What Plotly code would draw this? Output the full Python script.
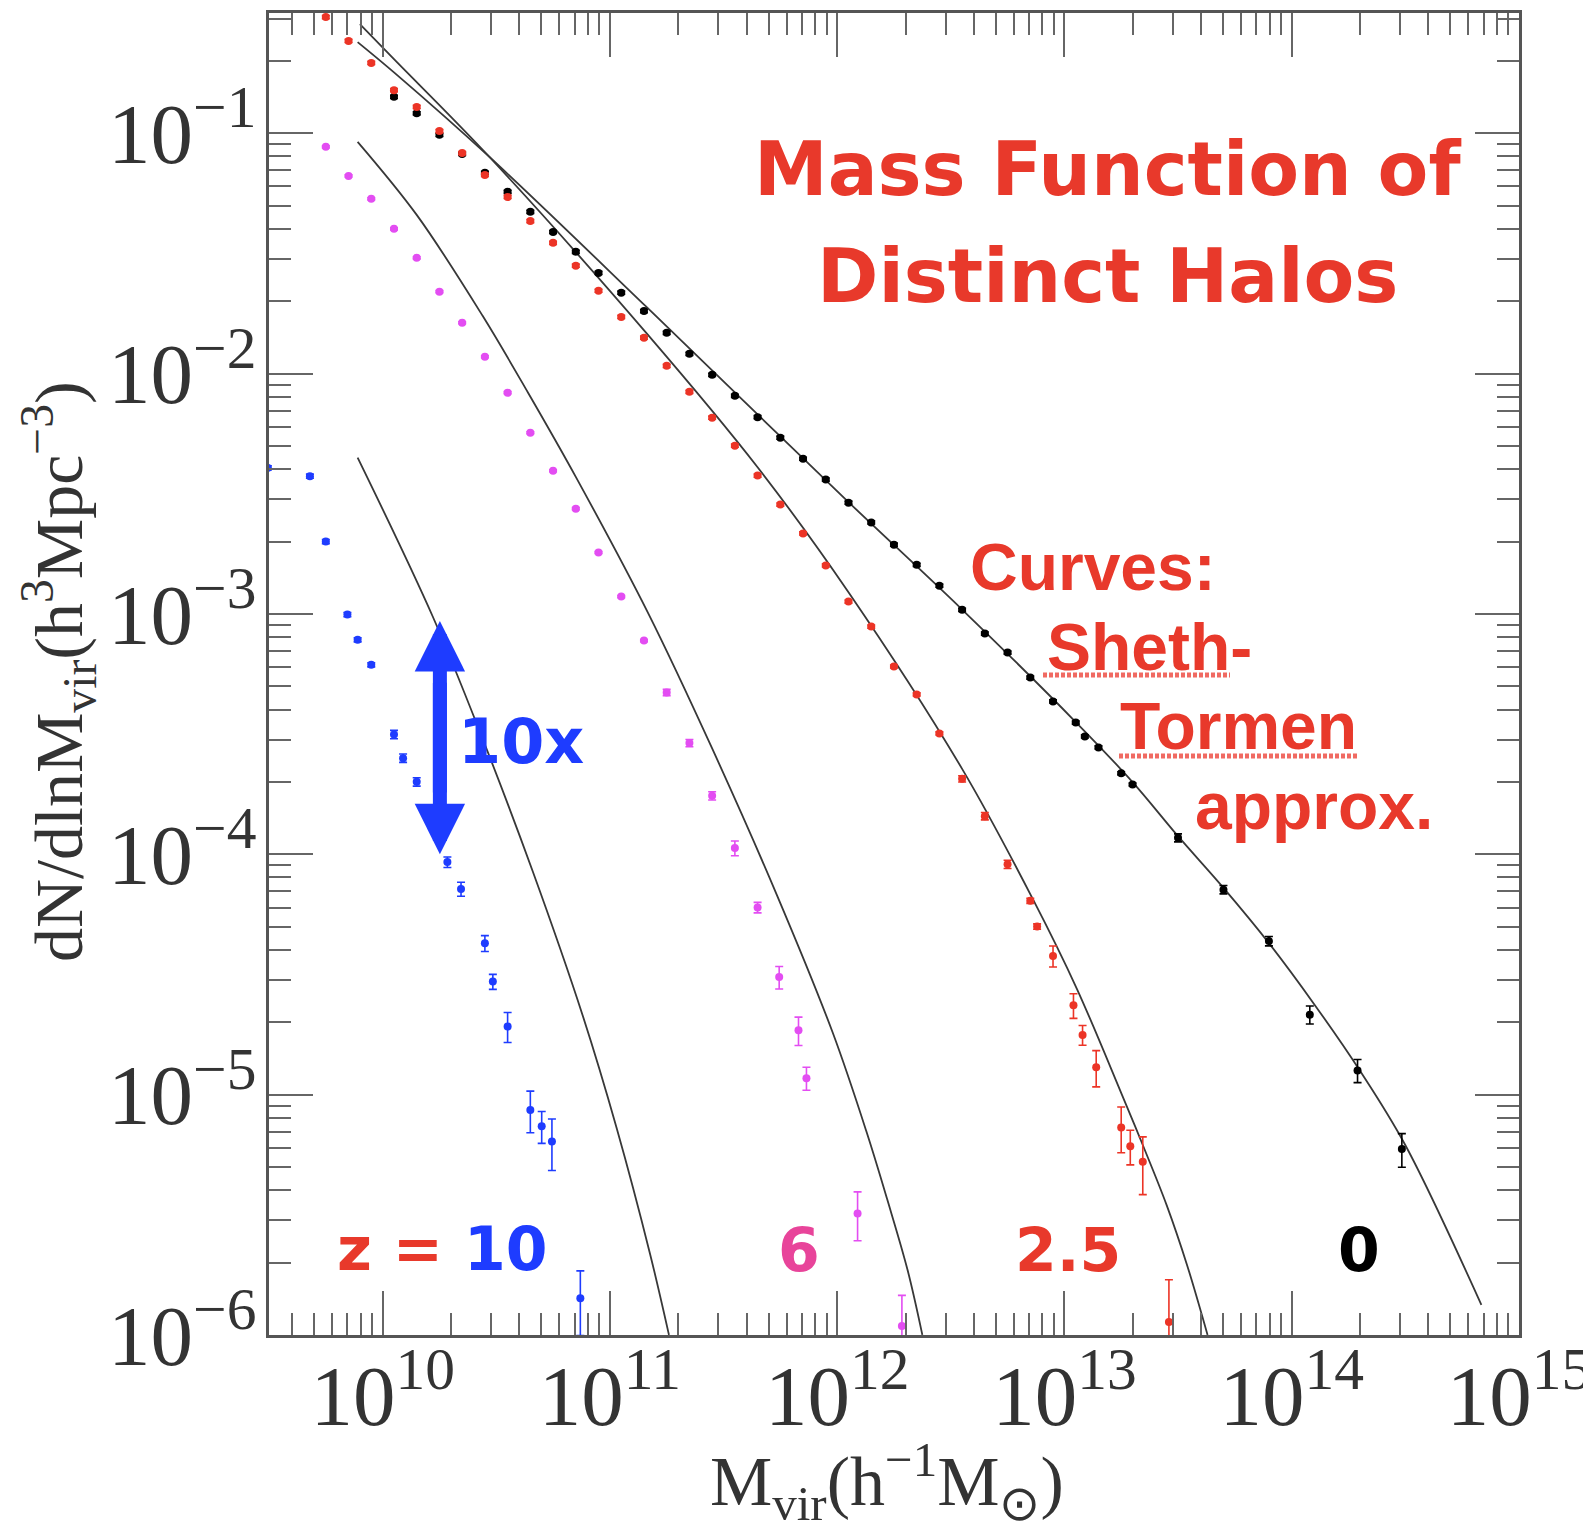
import plotly.graph_objects as go

# ---------------- data ----------------
# z = 0 (black)
z0_logM = [10.05, 10.15, 10.25, 10.35, 10.45, 10.55, 10.65, 10.75, 10.85, 10.95,
           11.05, 11.15, 11.25, 11.35, 11.45, 11.55, 11.65, 11.75, 11.85, 11.95,
           12.05, 12.15, 12.25, 12.35, 12.45, 12.55, 12.65, 12.75, 12.85, 12.95,
           13.05, 13.09, 13.15, 13.25, 13.30, 13.50, 13.70, 13.90, 14.08, 14.29, 14.485]
z0_val = [0.1416, 0.121, 0.0984, 0.0820, 0.0684, 0.0570, 0.0471, 0.0388, 0.0321, 0.0262,
          0.0217, 0.0182, 0.01477, 0.01208, 9.88e-3, 8.08e-3, 6.58e-3, 5.41e-3, 4.42e-3, 3.62e-3,
          2.90e-3, 2.40e-3, 1.94e-3, 1.60e-3, 1.31e-3, 1.04e-3, 8.28e-4, 6.90e-4, 5.43e-4, 4.32e-4,
          3.53e-4, 3.09e-4, 2.78e-4, 2.17e-4, 1.95e-4, 1.17e-4, 7.12e-5, 4.35e-5, 2.15e-5, 1.26e-5, 5.93e-6]
z0_relerr = [0.015] * 35 + [0.038, 0.04, 0.045, 0.086, 0.11, 0.16]

# z = 2.5 (red)
z25_logM = [9.75, 9.85, 9.95, 10.05, 10.15, 10.25, 10.35, 10.45, 10.55, 10.65,
            10.75, 10.85, 10.95, 11.05, 11.15, 11.25, 11.35, 11.45, 11.55, 11.65,
            11.75, 11.85, 11.95, 12.05, 12.15, 12.25, 12.35, 12.45, 12.55, 12.65,
            12.75, 12.85, 12.88, 12.95, 13.04, 13.08, 13.14, 13.25, 13.29, 13.345, 13.46]
z25_val = [0.304, 0.242, 0.196, 0.151, 0.1286, 0.102, 0.0827, 0.0670, 0.0543, 0.0431,
           0.0350, 0.0281, 0.0221, 0.0172, 0.0141, 0.01076, 8.39e-3, 6.55e-3, 5.01e-3, 3.76e-3,
           2.85e-3, 2.16e-3, 1.59e-3, 1.125e-3, 8.85e-4, 6.04e-4, 4.62e-4, 3.18e-4, 2.06e-4, 1.44e-4,
           9.08e-5, 6.4e-5, 5.0e-5, 3.77e-5, 2.35e-5, 1.77e-5, 1.30e-5, 7.3e-6, 6.1e-6, 5.25e-6, 1.13e-6]
z25_relerr = [0.015] * 28 + [0.03, 0.035, 0.04, 0.025, 0.026, 0.10, 0.117, 0.094,
                             0.172, 0.216, 0.164, 0.27, 0.50]

# z = 6 (magenta)
z6_logM = [9.75, 9.85, 9.95, 10.05, 10.15, 10.25, 10.35, 10.45, 10.55, 10.65,
           10.75, 10.85, 10.95, 11.05, 11.15, 11.25, 11.35, 11.45, 11.55, 11.65,
           11.745, 11.83, 11.865, 12.09, 12.285]
z6_val = [0.0877, 0.0664, 0.0533, 0.0400, 0.0303, 0.0219, 0.01626, 0.01174, 8.32e-3, 5.67e-3,
          3.94e-3, 2.74e-3, 1.80e-3, 1.18e-3, 7.74e-4, 4.71e-4, 2.90e-4, 1.75e-4, 1.06e-4, 6.0e-5,
          3.08e-5, 1.85e-5, 1.17e-5, 3.2e-6, 1.09e-6]
z6_relerr = [0.01] * 15 + [0.03, 0.035, 0.04, 0.07, 0.05, 0.107, 0.135, 0.11, 0.23, 0.34]

# z = 10 (blue)
z10_logM = [9.495, 9.68, 9.75, 9.845, 9.89, 9.95, 10.05, 10.09, 10.15, 10.285,
            10.345, 10.45, 10.485, 10.55, 10.65, 10.70, 10.745, 10.87]
z10_val = [4.05e-3, 3.74e-3, 2.00e-3, 9.93e-4, 7.80e-4, 6.14e-4, 3.15e-4, 2.51e-4, 2.0e-4, 9.27e-5,
           7.16e-5, 4.26e-5, 2.95e-5, 1.92e-5, 8.63e-6, 7.38e-6, 6.37e-6, 1.42e-6]
z10_relerr = [0.02] * 6 + [0.04, 0.04, 0.04, 0.05, 0.067, 0.076, 0.072, 0.143,
                           0.197, 0.151, 0.242, 0.30]

# Sheth-Tormen curves (log10 M, log10 dN/dlnM)
st0_logM = [9.89, 10.05, 10.47, 11.16, 11.65, 12.05, 12.55, 13.05, 13.30, 13.50,
            13.70, 13.90, 14.10, 14.30, 14.50, 14.835]
st0_logy = [-0.621, -0.747, -1.099, -1.722, -2.17, -2.535, -2.982, -3.45, -3.70, -3.925,
            -4.14, -4.37, -4.625, -4.90, -5.21, -5.875]
st25_logM = [9.90, 10.05, 10.47, 11.16, 11.65, 12.05, 12.55, 12.862, 13.055, 13.253,
             13.345, 13.45, 13.54, 13.63]
st25_logy = [-0.546, -0.692, -1.099, -1.831, -2.39, -2.91, -3.645, -4.188, -4.56, -5.00,
             -5.21, -5.46, -5.71, -6.0]
st6_logM = [9.89, 10.15, 10.44, 10.64, 10.85, 11.17, 11.45, 11.735, 11.98, 12.13,
            12.22, 12.31, 12.375]
st6_logy = [-1.036, -1.34, -1.76, -2.08, -2.43, -3.00, -3.56, -4.17, -4.741, -5.157,
            -5.435, -5.73, -6.0]
st10_logM = [9.89, 10.22, 10.44, 10.66, 10.88, 11.03, 11.176, 11.26]
st10_logy = [-2.35, -3.01, -3.52, -4.07, -4.67, -5.14, -5.66, -6.0]

# "10x" arrow (log10 positions)
arrow_logM = 10.252
arrow_top_logy = -3.03
arrow_bot_logy = -4.0

# ---------------- styles ----------------
RED = "#ec3426"
TXT_RED = "#e8392b"
MAG = "#e34df2"
BLUE = "#1e3cff"
PINK = "#e8449a"
CURVE = "#383838"

fig = go.Figure()

for lm, ly in [(st0_logM, st0_logy), (st25_logM, st25_logy),
               (st6_logM, st6_logy), (st10_logM, st10_logy)]:
    fig.add_trace(go.Scatter(
        x=[10 ** v for v in lm], y=[10 ** v for v in ly], mode="lines",
        line=dict(color=CURVE, width=1.8, shape="spline", smoothing=1.0),
        hoverinfo="skip", showlegend=False))


def pts(lm, vals, rel, color):
    return go.Scatter(
        x=[10 ** v for v in lm], y=vals, mode="markers",
        marker=dict(color=color, size=8, line=dict(width=0)),
        error_y=dict(type="data", array=[v * r for v, r in zip(vals, rel)],
                     color=color, thickness=1.6, width=4),
        showlegend=False)


fig.add_trace(pts(z0_logM, z0_val, z0_relerr, "black"))
fig.add_trace(pts(z25_logM, z25_val, z25_relerr, RED))
fig.add_trace(pts(z6_logM, z6_val, z6_relerr, MAG))
fig.add_trace(pts(z10_logM, z10_val, z10_relerr, BLUE))

# plot area in (screenshot) pixels: x 269..1519, y 13..1335
L, R, T, B = 269, 1519, 13, 1335
OFF = 8                      # default page margin around the figure
W, H = 1591 - OFF, 1535 - OFF


def px(x):
    return (x - L) / (R - L)


def py(y):
    return (B - y) / (B - T)


axis_common = dict(
    type="log", showline=True, linecolor="#555555", linewidth=3, mirror="ticks",
    ticks="inside", ticklen=44, tickwidth=2, tickcolor="#666666",
    dtick=1, exponentformat="power", showexponent="all", automargin=False,
    ticklabeloverflow="allow",
    tickfont=dict(family="Liberation Serif", size=68, color="#333333"),
    minor=dict(ticks="inside", ticklen=22, tickwidth=2, tickcolor="#666666",
               dtick="D1", showgrid=False),
    showgrid=False, zeroline=False,
)

fig.update_layout(
    width=W, height=H,
    margin=dict(l=L - OFF, r=W - (R - OFF), t=T - OFF, b=H - (B - OFF), autoexpand=False),
    plot_bgcolor="white", paper_bgcolor="white", showlegend=False,
    xaxis=dict(range=[9.5, 15.0005], ticklabelstandoff=-12, **axis_common),
    yaxis=dict(range=[-6.0005, -0.5], ticklabelstandoff=-4, **axis_common),
)

ann = []
# axis titles
ann.append(dict(xref="paper", yref="paper", x=px(887), y=py(1481),
                text="M<sub>vir</sub>(h<sup>−1</sup>M<sub>⊙</sub>)",
                showarrow=False, xanchor="center", yanchor="middle",
                font=dict(family="Liberation Serif", size=70, color="#333333")))
ann.append(dict(xref="paper", yref="paper", x=px(58), y=py(672),
                text="dN/dlnM<sub>vir</sub>(h<sup>3</sup>Mpc<sup>−3</sup>)",
                textangle=-90, showarrow=False, xanchor="center", yanchor="middle",
                font=dict(family="Liberation Serif", size=68, color="#333333")))

# title
for txt, yy in [("Mass Function of", 169), ("Distinct Halos", 275.5)]:
    ann.append(dict(xref="paper", yref="paper", x=px(1107), y=py(yy), text=txt,
                    showarrow=False, xanchor="center", yanchor="middle",
                    font=dict(family="DejaVu Sans", size=74, color=TXT_RED, weight="bold")))

# curves note
for txt, xx, yy in [("Curves:", 968, 567), ("Sheth-", 1045, 646.5),
                    ("Tormen", 1118, 726), ("approx.", 1193, 806)]:
    ann.append(dict(xref="paper", yref="paper", x=px(xx), y=py(yy), text=txt,
                    showarrow=False, xanchor="left", yanchor="middle",
                    font=dict(family="Liberation Sans", size=66, color=TXT_RED, weight="bold")))

# redshift labels
zfont = dict(family="DejaVu Sans", size=60, weight="bold")
ann.append(dict(xref="paper", yref="paper", x=px(335), y=py(1249), showarrow=False,
                xanchor="left", yanchor="middle",
                text=f"<span style='color:{TXT_RED}'>z = </span><span style='color:{BLUE}'>10</span>",
                font=dict(color=TXT_RED, **zfont)))
for txt, xx, col in [("6", 799, PINK), ("2.5", 1067.5, TXT_RED), ("0", 1359, "black")]:
    ann.append(dict(xref="paper", yref="paper", x=px(xx), y=py(1250), text=txt,
                    showarrow=False, xanchor="center", yanchor="middle",
                    font=dict(color=col, **zfont)))

# 10x label
ann.append(dict(xref="paper", yref="paper", x=px(456), y=py(741), text="10x",
                showarrow=False, xanchor="left", yanchor="middle",
                font=dict(family="DejaVu Sans", size=62, color=BLUE, weight="bold")))

# double arrow: two overlapping single arrows so the shaft has no gap
for tip, tail in ((arrow_top_logy, arrow_bot_logy + 0.25), (arrow_bot_logy, arrow_top_logy - 0.25)):
    ann.append(dict(xref="x", yref="y", axref="x", ayref="y",
                    x=arrow_logM, y=tip, ax=arrow_logM, ay=tail, text="",
                    showarrow=True, arrowhead=2, arrowsize=0.72, arrowwidth=14,
                    arrowcolor=BLUE, standoff=0, startstandoff=0,
                    font=dict(size=1)))

fig.update_layout(annotations=ann)

# dotted underlines
for x0, x1, yy in [(1043, 1230, 675), (1119, 1358, 756)]:
    fig.add_shape(type="line", xref="paper", yref="paper",
                  x0=px(x0), x1=px(x1), y0=py(yy), y1=py(yy),
                  line=dict(color="#f06a62", width=5, dash="4px,2px"))

fig.write_html("out.html")
